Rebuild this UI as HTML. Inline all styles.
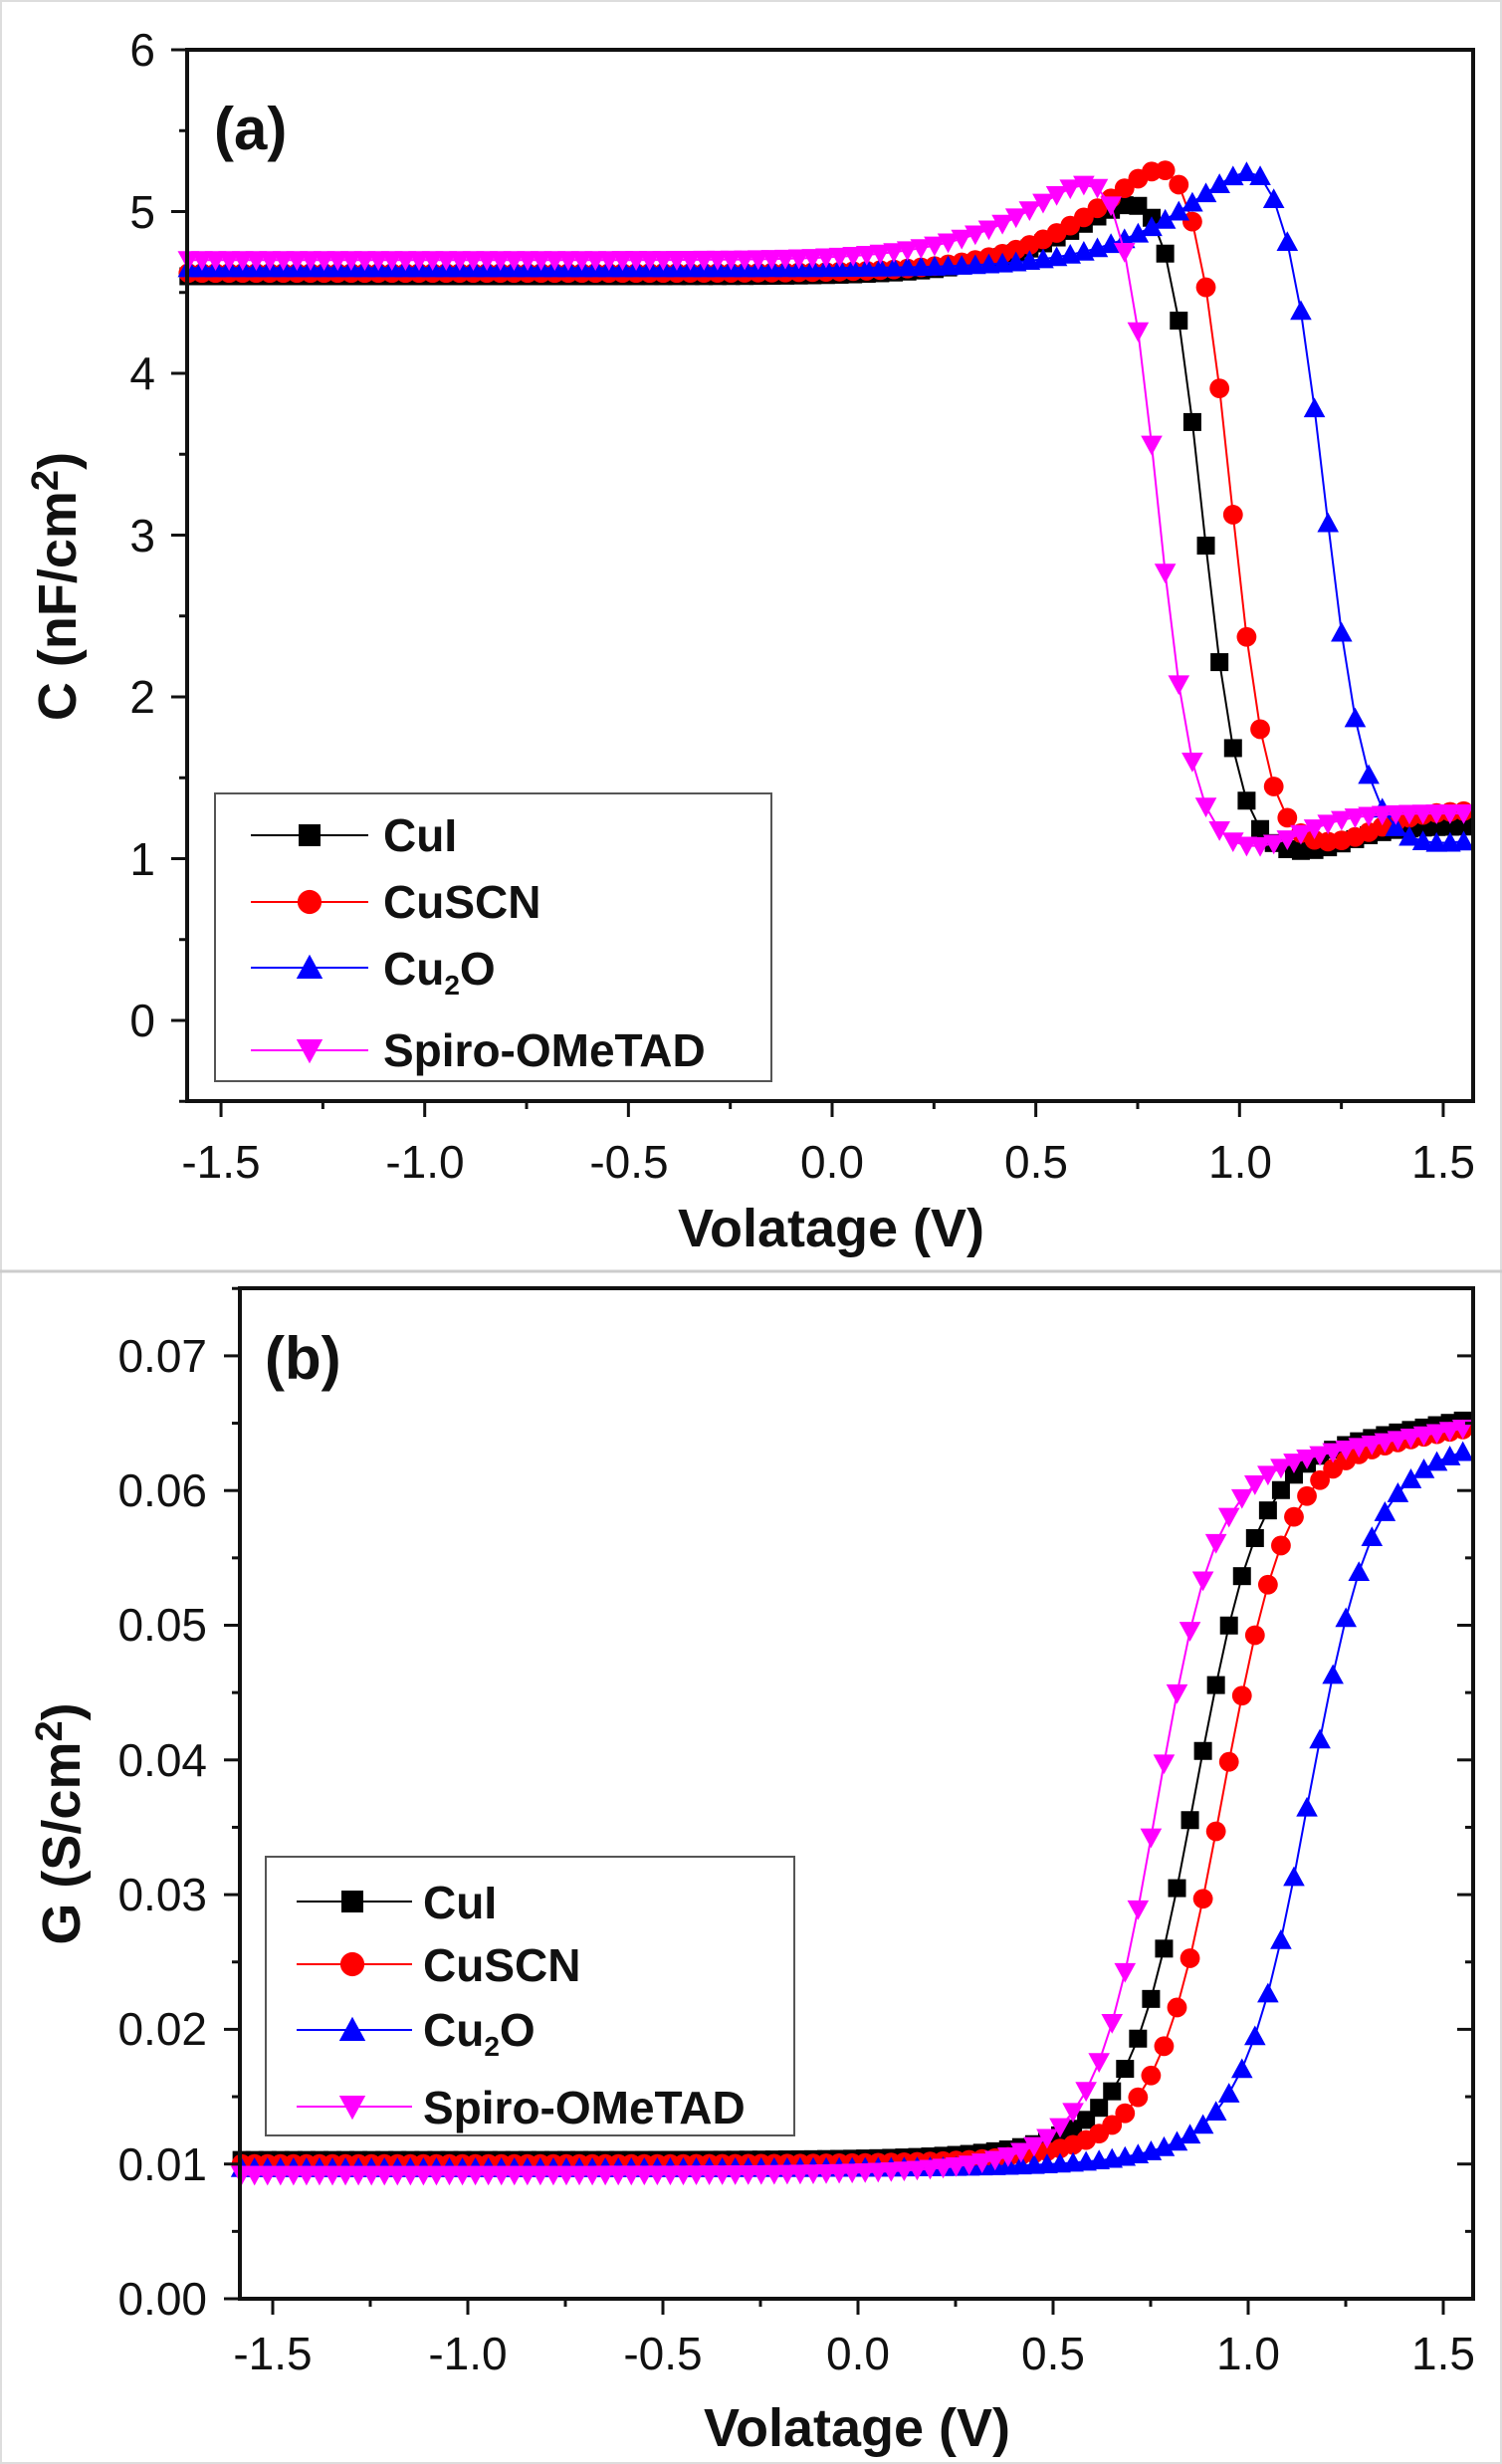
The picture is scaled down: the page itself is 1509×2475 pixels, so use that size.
<!DOCTYPE html>
<html><head><meta charset="utf-8"><style>
html,body{margin:0;padding:0;background:#fff}
svg{display:block}
text{font-family:"Liberation Sans",Arial,sans-serif}
.t{font-size:46px;fill:#111}
.b{font-weight:bold;fill:#111}
</style></head><body>
<svg id="s" width="1509" height="2475" viewBox="0 0 1509 2475" xmlns="http://www.w3.org/2000/svg">
<rect x="1" y="1" width="1507" height="2473" fill="#fff" stroke="#ddd" stroke-width="2"/>
<line x1="0" y1="1277" x2="1509" y2="1277" stroke="#ccc" stroke-width="3"/>
<g id="ga"></g>
<g id="gb"></g>
<rect x="188" y="50" width="1292" height="1056" fill="none" stroke="#111" stroke-width="4"/>
<g class="t" text-anchor="end">
<text x="156" y="66">6</text><text x="156" y="229">5</text><text x="156" y="391">4</text>
<text x="156" y="554">3</text><text x="156" y="716">2</text><text x="156" y="879">1</text><text x="156" y="1041">0</text>
</g>
<g class="t" text-anchor="middle">
<text x="222" y="1183">-1.5</text><text x="427" y="1183">-1.0</text><text x="632" y="1183">-0.5</text>
<text x="836" y="1183">0.0</text><text x="1041" y="1183">0.5</text><text x="1246" y="1183">1.0</text><text x="1450" y="1183">1.5</text>
</g>
<text class="b" x="835" y="1252" text-anchor="middle" font-size="54">Volatage (V)</text>
<text class="b" font-size="54" transform="translate(76,589) rotate(-90)" text-anchor="middle">C (nF/cm<tspan font-size="38" dy="-18">2</tspan><tspan dy="18">)</tspan></text>
<text class="b" x="215" y="150" font-size="60">(a)</text>
<rect x="216" y="797" width="559" height="289" fill="#fff" stroke="#555" stroke-width="2"/>
<g class="b" font-size="46">
<text x="385" y="855">CuI</text><text x="385" y="922">CuSCN</text>
<text x="385" y="989">Cu<tspan font-size="28" dy="10">2</tspan><tspan dy="-10">O</tspan></text>
<text x="385" y="1071">Spiro-OMeTAD</text>
</g>
<rect x="241" y="1294" width="1239" height="1015" fill="none" stroke="#111" stroke-width="4"/>
<g class="t" text-anchor="end">
<text x="208" y="2325">0.00</text><text x="208" y="2190">0.01</text><text x="208" y="2054">0.02</text>
<text x="208" y="1919">0.03</text><text x="208" y="1784">0.04</text><text x="208" y="1648">0.05</text>
<text x="208" y="1513">0.06</text><text x="208" y="1378">0.07</text>
</g>
<g class="t" text-anchor="middle">
<text x="274" y="2380">-1.5</text><text x="470" y="2380">-1.0</text><text x="666" y="2380">-0.5</text>
<text x="862" y="2380">0.0</text><text x="1058" y="2380">0.5</text><text x="1254" y="2380">1.0</text><text x="1450" y="2380">1.5</text>
</g>
<text class="b" x="861" y="2457" text-anchor="middle" font-size="54">Volatage (V)</text>
<text class="b" font-size="54" transform="translate(80,1832) rotate(-90)" text-anchor="middle">G (S/cm<tspan font-size="38" dy="-18">2</tspan><tspan dy="18">)</tspan></text>
<text class="b" x="266" y="1385" font-size="60">(b)</text>
<rect x="267" y="1865" width="531" height="280" fill="#fff" stroke="#555" stroke-width="2"/>
<g class="b" font-size="46">
<text x="425" y="1927">CuI</text><text x="425" y="1990">CuSCN</text>
<text x="425" y="2055">Cu<tspan font-size="28" dy="10">2</tspan><tspan dy="-10">O</tspan></text>
<text x="425" y="2133">Spiro-OMeTAD</text>
</g>
<g id="tk"></g>
<g id="lg"></g>
</svg>
<script>
var NS="http://www.w3.org/2000/svg";
function el(p,t,a){var e=document.createElementNS(NS,t);for(var k in a)e.setAttribute(k,a[k]);p.appendChild(e);return e;}
var cols=["#000","#f00","#00f","#f0f"];
function mk(g,i,x,y,r){
 var c=cols[i];
 if(i==0)el(g,"rect",{x:x-r,y:y-r,width:2*r,height:2*r,fill:c});
 else if(i==1)el(g,"circle",{cx:x,cy:y,r:r*1.1,fill:c});
 else if(i==2)el(g,"polygon",{points:(x)+","+(y-r*1.2)+" "+(x-r*1.2)+","+(y+r)+" "+(x+r*1.2)+","+(y+r),fill:c});
 else el(g,"polygon",{points:(x)+","+(y+r*1.2)+" "+(x-r*1.2)+","+(y-r)+" "+(x+r*1.2)+","+(y-r),fill:c});
}
function sig(z){return 1/(1+Math.exp(-z));}
var Ax=function(v){return 836+v*409.3;},Ay=function(c){return 1025-c*162.5;};
var pa=[[4.6,0.80,5.22,0.91,0.045,1.0,1.2],[4.62,0.84,5.4,0.98,0.045,1.05,1.3],[4.65,1.06,5.4,1.21,0.05,1.06,1.15],[4.7,0.69,5.35,0.80,0.045,1.02,1.28]];
function Cf(p,v){var b=p[0]+(p[2]-p[0])*Math.exp(-Math.pow(Math.max(0,p[1]-v)/0.26,1.3));
 var s=sig((v-p[3])/p[4]);var lo=p[5]+(p[6]-p[5])*sig((v-p[3]-0.35)/0.06);return b*(1-s)+lo*s;}
var Bx=function(v){return 862+v*392;},By=function(g){return 2309-g*13530;};
var pb=[[0.0103,0.87,0.075],[0.0100,0.94,0.075],[0.0097,1.16,0.075],[0.0092,0.77,0.07]];
function Gf(p,v){var s=sig((v-p[1])/p[2]);var f=0.008*Math.exp(Math.min(0,v-p[1])/0.2)*(1-s)*(1-s);return p[0]+0.0525*s+0.003*Math.max(0,v-p[1]-0.2)/0.6+f;}
var ga=document.getElementById("ga"),gb=document.getElementById("gb");
for(var i=0;i<4;i++){
 var pts=[],ptsb=[],ma=[],mb=[];
 for(var v=-1.58;v<=1.581;v+=0.0333){
  var y=Cf(pa[i],v);pts.push(Ax(v).toFixed(1)+","+Ay(y).toFixed(1));ma.push([Ax(v),Ay(y)]);
  var g=Math.min(0.067,Gf(pb[i],v));ptsb.push(Bx(v).toFixed(1)+","+By(g).toFixed(1));mb.push([Bx(v),By(g)]);
 }
 el(ga,"polyline",{points:pts.join(" "),fill:"none",stroke:cols[i],"stroke-width":2});
 el(gb,"polyline",{points:ptsb.join(" "),fill:"none",stroke:cols[i],"stroke-width":2});
 ma.forEach(function(q){mk(ga,i,q[0],q[1],9);});
 mb.forEach(function(q){mk(gb,i,q[0],q[1],9);});
}
var tk=document.getElementById("tk");
for(var k=-3;k<=3;k++){var x=Ax(k*0.5);el(tk,"line",{x1:x,y1:1106,x2:x,y2:1122,stroke:"#111","stroke-width":3});
 var xm=Ax(k*0.5+0.25);if(k<3)el(tk,"line",{x1:xm,y1:1106,x2:xm,y2:1114,stroke:"#111","stroke-width":3});
 var xb=Bx(k*0.5);el(tk,"line",{x1:xb,y1:2309,x2:xb,y2:2325,stroke:"#111","stroke-width":3});
 var xbm=Bx(k*0.5+0.25);if(k<3)el(tk,"line",{x1:xbm,y1:2309,x2:xbm,y2:2317,stroke:"#111","stroke-width":3});}
for(var c=0;c<=6;c++){var y=Ay(c);el(tk,"line",{x1:172,y1:y,x2:188,y2:y,stroke:"#111","stroke-width":3});
 var ym=Ay(c-0.5);el(tk,"line",{x1:180,y1:ym,x2:188,y2:ym,stroke:"#111","stroke-width":3});}
for(var c=0;c<=7;c++){var y=By(c*0.01);el(tk,"line",{x1:225,y1:y,x2:241,y2:y,stroke:"#111","stroke-width":3});
 el(tk,"line",{x1:1464,y1:y,x2:1480,y2:y,stroke:"#111","stroke-width":3});
 var ym=By(c*0.01+0.005);el(tk,"line",{x1:233,y1:ym,x2:241,y2:ym,stroke:"#111","stroke-width":3});
 el(tk,"line",{x1:1472,y1:ym,x2:1480,y2:ym,stroke:"#111","stroke-width":3});}
var lg=document.getElementById("lg");
[839,906,972,1055].forEach(function(y,i){el(lg,"line",{x1:252,y1:y,x2:370,y2:y,stroke:cols[i],"stroke-width":2});mk(lg,i,311,y,11);});
[1910,1973,2039,2116].forEach(function(y,i){el(lg,"line",{x1:298,y1:y,x2:414,y2:y,stroke:cols[i],"stroke-width":2});mk(lg,i,354,y,11);});
</script>
</body></html>
